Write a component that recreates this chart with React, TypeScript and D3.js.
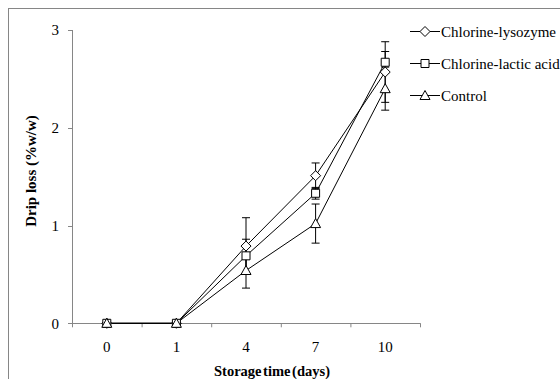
import React from "react";
import * as d3 from "d3";

const days = ["0", "1", "4", "7", "10"];
const seriesNames = ["Chlorine-lysozyme", "Chlorine-lactic acid", "Control"];
const lysozyme = [0, 0, 0.79, 1.51, 2.57];
const lysozymeErr = [0, 0, 0.29, 0.13, 0.31];
const lactic = [0, 0, 0.69, 1.33, 2.67];
const lacticErr = [0, 0, 0.17, 0.06, 0.11];
const control = [0, 0, 0.54, 1.02, 2.4];
const controlErr = [0, 0, 0.18, 0.2, 0.22];
const yTicks = [0, 1, 2, 3];

const W = 560;
const H = 379;
const FONT = "'Liberation Serif', 'Times New Roman', serif";
const AXIS = "#868686";

// marker outlines (excel-like: diamond, square, triangle)
const markerPaths = [
  "M0,-5L5,0L0,5L-5,0Z",
  "M-4,-4H4V4H-4Z",
  "M0,-5L5,4H-5Z",
];

export default function App() {
  const x = d3.scaleBand<string>().domain(days).range([72, 420]);
  const y = d3.scaleLinear().domain([0, 3]).range([323.3, 30]);

  const series = [
    { name: seriesNames[0], values: lysozyme, err: lysozymeErr },
    { name: seriesNames[1], values: lactic, err: lacticErr },
    { name: seriesNames[2], values: control, err: controlErr },
  ];

  const cx = (d: string) => (x(d) as number) + x.bandwidth() / 2;
  const line = d3
    .line<number>()
    .x((_, i) => cx(days[i]))
    .y((v) => y(v));

  const boundaries = [...days.map((d) => x(d) as number), 420];

  return (
    <svg width={W} height={H} style={{ position: "absolute", left: 0, top: 0 }}>
      <rect x={8.5} y={8.5} width={W + 10} height={H + 10} fill="white" stroke={AXIS} />

      {/* y axis */}
      <line x1={72.5} x2={72.5} y1={y(3)} y2={y(0)} stroke={AXIS} />
      {yTicks.map((t) => (
        <g key={t}>
          <line x1={68} x2={72.5} y1={Math.round(y(t)) + 0.5} y2={Math.round(y(t)) + 0.5} stroke={AXIS} />
          <text x={59} y={y(t)} dy="0.35em" textAnchor="end" fontFamily={FONT} fontSize={15}>
            {t}
          </text>
        </g>
      ))}

      {/* x axis */}
      <line x1={72} x2={420.5} y1={Math.round(y(0)) + 0.5} y2={Math.round(y(0)) + 0.5} stroke={AXIS} />
      {boundaries.map((b, i) => (
        <line key={i} x1={b + 0.5} x2={b + 0.5} y1={y(0)} y2={y(0) + 4} stroke={AXIS} />
      ))}
      {days.map((d) => (
        <text key={d} x={cx(d)} y={352} textAnchor="middle" fontFamily={FONT} fontSize={15}>
          {d}
        </text>
      ))}

      <text x={272} y={376} textAnchor="middle" fontFamily={FONT} fontSize={14.5} fontWeight="bold" wordSpacing={-2}>
        Storage time (days)
      </text>
      <text
        transform={`translate(36, 171) rotate(-90)`}
        textAnchor="middle"
        fontFamily={FONT}
        fontSize={15}
        fontWeight="bold"
      >
        Drip loss (%w/w)
      </text>

      {/* series lines */}
      {series.map((s, si) => (
        <path key={si} d={line(s.values) as string} fill="none" stroke="black" strokeWidth={1} />
      ))}

      {/* error bars */}
      {series.map((s, si) =>
        s.values.map((v, i) =>
          s.err[i] > 0 ? (
            <g key={`${si}-${i}`} stroke="black" strokeWidth={1}>
              <line x1={cx(days[i])} x2={cx(days[i])} y1={y(v - s.err[i])} y2={y(v + s.err[i])} />
              <line x1={cx(days[i]) - 4} x2={cx(days[i]) + 4} y1={y(v + s.err[i])} y2={y(v + s.err[i])} />
              <line x1={cx(days[i]) - 4} x2={cx(days[i]) + 4} y1={y(v - s.err[i])} y2={y(v - s.err[i])} />
            </g>
          ) : null
        )
      )}

      {/* markers */}
      {series.map((s, si) =>
        s.values.map((v, i) => (
          <path
            key={`m${si}-${i}`}
            transform={`translate(${cx(days[i])}, ${y(v)})`}
            d={markerPaths[si]}
            fill="white"
            stroke="black"
          />
        ))
      )}

      {/* legend */}
      {series.map((s, si) => {
        const ly = 31.5 + si * 32;
        return (
          <g key={`l${si}`}>
            <line x1={410} x2={440} y1={ly} y2={ly} stroke="black" />
            <path transform={`translate(425, ${ly})`} d={markerPaths[si]} fill="white" stroke="black" />
            <text x={441} y={ly} dy="0.35em" fontFamily={FONT} fontSize={15}>
              {s.name}
            </text>
          </g>
        );
      })}
    </svg>
  );
}
